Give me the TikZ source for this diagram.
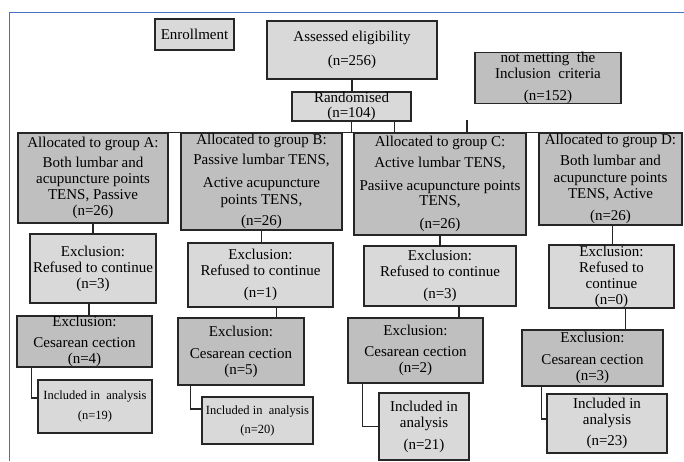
\documentclass[tikz,border=0pt]{standalone}
\usepackage{fontspec}
\setmainfont{Liberation Serif}
\definecolor{frameblue}{HTML}{4472C4}
\tikzset{
  box/.style={draw=black!85, line width=1.1pt, inner sep=0pt, align=center,
    font=\rmfamily\fontsize{15}{16}\selectfont},
  light/.style={box, fill=black!15},
  dark/.style={box, fill=black!25},
  boxsize/.style 2 args={minimum width=#1pt, minimum height=#2pt},
  smalltext/.style={font=\rmfamily\fontsize{12.5}{14}\selectfont},
  link/.style={draw=black!85, line width=1.1pt},
}
\begin{document}
\begin{tikzpicture}[x=1pt, y=-1pt]
    \useasboundingbox (0,0) rectangle (684,461);
    % frame
    \draw[frameblue, line width=0.8pt] (9,461) -- (9,12) -- (684,12);

    % top part
    \node[light, boxsize={79}{31}] (enroll) at (194.5,34.5) {Enrollment};
    \node[light, boxsize={170}{58}] (assess) at (352,50) {Assessed eligibility\\[8pt] (n=256)};
    \node[light, boxsize={119}{29}] (rand) at (351.5,106.5) {Randomised\\[-1pt] (n=104)};
    \node[dark, boxsize={146}{50}] (notmet) at (548,78) {not metting\ \ the\\ Inclusion\ \ criteria\\[6pt] (n=152)};

    % groups
    \node[dark, boxsize={150}{90}] (grpA) at (93,178)
        {Allocated to group A:\\[4pt] Both lumbar and\\ acupuncture points\\ TENS, Passive\\ (n=26)};
    \node[dark, boxsize={161}{97}] (grpB) at (261.5,181.5)
        {Allocated to group B:\\[4pt] Passive lumbar TENS,\\[7pt] Active acupuncture\\[1pt] points TENS,\\[5pt] (n=26)};
    \node[dark, boxsize={172}{102}] (grpC) at (440,184)
        {Allocated to group C:\\[5pt] Active lumbar TENS,\\[7pt] Pasiive acupuncture points\\[-0.5pt] TENS,\\[7pt] (n=26)};
    \node[dark, boxsize={143}{92}] (grpD) at (610.5,179)
        {Allocated to group D:\\[5pt] Both lumbar and\\[1pt] acupuncture points\\[-0.5pt] TENS, Active\\[6pt] (n=26)};

    % exclusion: refused
    \node[light, boxsize={126}{69}] (refA) at (93,268.5) {Exclusion:\\ Refused to continue\\ (n=3)};
    \node[light, boxsize={145}{64}] (refB) at (260.5,275) {Exclusion:\\ Refused to continue\\[6pt] (n=1)};
    \node[light, boxsize={152}{60}] (refC) at (440,276) {Exclusion:\\ Refused to continue\\[6pt] (n=3)};
    \node[light, boxsize={125}{63}] (refD) at (611.5,276.5) {Exclusion:\\ Refused to\\ continue\\ (n=0)};

    % exclusion: cesarean
    \node[dark, boxsize={135}{51}] (cesA) at (84.5,341.5) {Exclusion:\\[5pt] Cesarean cection\\ (n=4)};
    \node[dark, boxsize={126}{67}] (cesB) at (241,351.5) {Exclusion:\\[6pt] Cesarean cection\\ (n=5)};
    \node[dark, boxsize={135}{65}] (cesC) at (415.5,350.5) {Exclusion:\\[5pt] Cesarean cection\\ (n=2)};
    \node[dark, boxsize={141}{56}] (cesD) at (592.5,358) {Exclusion:\\[6pt] Cesarean cection\\ (n=3)};

    % analysed
    \node[light, smalltext, boxsize={114}{53}] (incA) at (95,406.5) {Included in\ \ analysis\\[6pt] (n=19)};
    \node[light, smalltext, boxsize={111}{47}] (incB) at (257.5,420.5) {Included in\ \ analysis\\[5pt] (n=20)};
    \node[light, boxsize={90}{67}] (incC) at (424,426.5) {Included in\\ analysis\\[6pt] (n=21)};
    \node[light, boxsize={120}{59}] (incD) at (607,423.5) {Included in\\ analysis\\[5pt] (n=23)};

    % connectors
    \draw[link] (assess.south) -- (assess.south |- rand.north);
    \draw[link] (grpA.north) -- (grpA.north -| grpD.north east);
    \draw[link] (rand.south) -- (rand.south |- grpC.north);
    \draw[link] ([xshift=-17pt]rand.south east) -- ([xshift=-17pt]rand.south east |- grpC.north);
    \coordinate (tick) at (467,120);
    \draw[link] (tick) -- (tick |- grpC.north);

    \draw[link] (grpA.south) -- (refA.north);
    \draw[link] (grpB.south) -- (grpB.south |- refB.north);
    \draw[link] (grpC.south) -- (refC.north);
    \draw[link] ([xshift=2pt]grpD.south) -- ([xshift=2pt]grpD.south |- refD.north);

    \draw[link] ([xshift=-4pt]refA.south) -- ([xshift=-4pt]refA.south |- cesA.north);
    \draw[link] ([xshift=16pt]refB.south) -- ([xshift=16pt]refB.south |- cesB.north);
    \draw[link] ([xshift=19pt]refC.south) -- ([xshift=19pt]refC.south |- cesC.north);
    \draw[link] ([xshift=14pt]refD.south) -- ([xshift=14pt]refD.south |- cesD.north);

    \draw[link] ([xshift=15pt]cesA.south west) |- ([yshift=8.5pt]incA.west);
    \draw[link] ([xshift=13pt]cesB.south west) |- ([yshift=11.5pt]incB.west);
    \draw[link] ([xshift=15pt]cesC.south west) |- (incC.west);
    \draw[link] ([xshift=20pt]cesD.south west) |- ([yshift=4.5pt]incD.west);
\end{tikzpicture}
\end{document}
